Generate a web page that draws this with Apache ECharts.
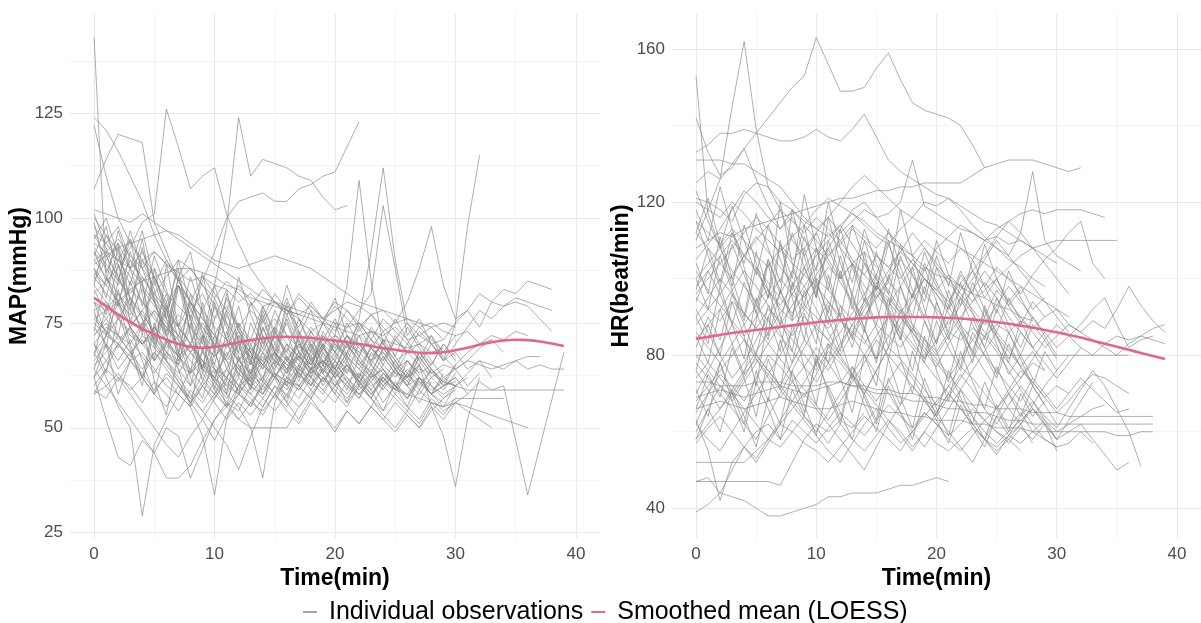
<!DOCTYPE html>
<html>
<head>
<meta charset="utf-8">
<script src="https://cdn.jsdelivr.net/npm/echarts@6/dist/echarts.min.js"></script>
<style>
  html, body { margin: 0; padding: 0; background: #ffffff; }
  #chart { width: 1201px; height: 623px; }
</style>
</head>
<body>
<div id="chart"></div>
<script>
// Axis breaks (major labels) and grid positions (major + minor)
const xTicks = [0, 10, 20, 30, 40];
const xGrid = [0, 5, 10, 15, 20, 25, 30, 35, 40];
const mapTicks = [25, 50, 75, 100, 125];
const mapGrid = [25, 37.5, 50, 62.5, 75, 87.5, 100, 112.5, 125, 137.5];
const hrTicks = [40, 80, 120, 160];
const hrGrid = [40, 60, 80, 100, 120, 140, 160];

// MAP (mmHg) per patient, one value per minute starting at 0 (null = no reading)
const mapSubjects = [
  [143, 86, 80, 74, 70, 72, 67, 65, 63, 66, 61, 64, 60, 62],
  [124, 121, 116, 110, 104, 96, 90, 86, 82, 78, 74, 71, 69, 67, 66, 68, 65, 67, 64, 66],
  [122, 110, 100, 94, 90, 86, 79, 74, 70, 66, 64, 60, 58, 62, 59, 63, 61, 60, 64, 62],
  [107, 114, 120, 119, 118, 99, 92, 85, 80, 74, 70, 66, 63, 60, 62, 58, 61, 59, 63],
  [82, 85, 88, 93, 99, 101, 126, 117, 107, 110, 112, 101, 94, 88, 84, 80, 78, 76, 73, 75, 72, 70, 68, 71, 69],
  [88, 84, 90, 86, 80, 77, 72, 75, 70, 78, 84, 98, 124, 110, 114, 113, 112, 110, 109, 105, 102, 103],
  [96, 94, 98, 90, 85, 88, 82, 79, 76, 85, 92, 100, 104, 105, 106, 104, 104, 107, 108, 110, 111, 117, 123],
  [68, 62, 55, 50, 29, 46, 52, 58, 55, 60, 64, 62, 66, 63, 68, 65, 70, 67, 64, 66, 62, 65, 60, 63, 61, 64, 60, 62, 58, 60, 61],
  [75, 72, 70, 66, 68, 64, 60, 58, 55, 48, 34, 52, 60, 58, 62, 66, 64, 68, 65, 70, 67, 72, 69, 66, 68, 64, 66, 63, 65],
  [78, 80, 76, 72, 70, 74, 68, 66, 70, 64, 62, 58, 55, 50, 38, 56, 62, 60, 64, 66, 63, 68, 65, 62, 64, 60, 58, 62, 60, 57, 59],
  [70, 74, 72, 68, 71, 66, 70, 67, 64, 68, 65, 62, 66, 63, 67, 64, 69, 66, 63, 65, 60, 62, 58, 61, 56, 60, 62, 65, 55, 48, 36, 52, 62],
  [92, 88, 84, 90, 86, 82, 78, 84, 80, 76, 72, 78, 74, 70, 73, 76, 72, 69, 74, 71, 68, 72, 70, 67, 70, 66, 68, 70, 72, 66, 75, 98, 115],
  [85, 90, 94, 88, 92, 86, 80, 84, 78, 82, 76, 79, 74, 78, 75, 80, 77, 82, 79, 76, 80, 78, 74, 77, 73, 75, 80, 88, 98, 84, 76, 78, 74, 80, 83, 82, 85, 84, 83],
  [66, 70, 64, 68, 62, 58, 63, 60, 56, 61, 58, 62, 59, 64, 61, 66, 63, 68, 65, 70, 72, 84, 109, 85, 70, 66, 62, 65, 60, 58, 60, 59, 59, 59, 59, 59, 59, 59, 59, 59],
  [72, 76, 80, 74, 78, 72, 68, 65, 70, 66, 62, 68, 64, 60, 65, 62, 67, 64, 70, 66, 63, 68, 76, 92, 112, 90, 75, 70, 66, 62, 64, 60, 63],
  [80, 78, 82, 76, 73, 78, 74, 70, 66, 62, 58, 64, 60, 66, 62, 68, 64, 70, 67, 72, 69, 74, 78, 82, 103, 88, 72, 76, 70, 66, 68, 64, 66, 62],
  [62, 52, 43, 41, 47, 44, 50, 48, 38, 45, 52, 56, 54, 60, 58, 62, 60, 64, 62, 59, 63, 60, 58, 62, 64, 60, 57, 62, 59, 61, 60],
  [64, 60, 56, 52, 48, 44, 38, 38, 41, 47, 52, 55, 58, 56, 60, 63, 61, 65, 62, 66, 64, 61, 63, 60, 62],
  [90, 86, 82, 78, 74, 70, 66, 62, 58, 54, 50, 46, 40, 48, 55, 60, 58, 63, 60, 65, 62, 67, 64, 61, 65, 62, 66, 63],
  [58, 60, 63, 59, 62, 58, 55, 60, 57, 54, 58, 55, 52, 56, 54, 58, 55, 60, 57, 62, 59, 56, 60, 57, 54, 58, 55, 52, 57, 54, 56, 58],
  [60, 64, 61, 66, 63, 59, 62, 58, 64, 60, 57, 62, 59, 55, 61, 58, 64, 60, 57, 62, 58, 55, 60, 57, 53, 50, 54, 51, 56, 53, 57],
  [98, 94, 90, 95, 88, 84, 90, 85, 80, 86, 82, 78, 84, 80, 76, 82, 78, 74, 80, 76, 73, 78, 75, 71, 76, 73, 70, 74, 71, 68, 72],
  [102, 101, 100, 99, 101, 99, 97, 95, 93, 91, 89, 87, 85, 83, 81, 80, 79, 78, 77, 76, 75, 74, 75, 73, 72, 74, 71, 72, 70, 71],
  [94, 92, 90, 88, 90, 92, 89, 87, 85, 86, 84, 83, 80, 82, 79, 80, 78, 77, 79, 76, 78, 80, 79, 77, 78, 75, 76, 74, 75, 73, 72, 73, 70, 71],
  [76, 78, 80, 83, 85, 86, 87, 88, 88, 87, 86, 84, 83, 81, 80, 79, 78, 77, 76, 75, 74, 73, 72, 73, 71, 70, 69, 70, 68, 69],
  [86, 82, 79, 83, 80, 76, 73, 77, 74, 70, 67, 71, 68, 65, 69, 66, 63, 67, 64, 61, 65, 62, 59, 63, 60, 64, 61, 58, 62, 59, 63],
  [74, 70, 66, 71, 67, 63, 68, 64, 60, 65, 61, 57, 62, 58, 55, 60, 56, 52, 57, 53, 50, 54, 51, 55, 52, 56, 53, 50, 54, 57, 60, 62],
  [90, 92, 95, 91, 88, 92, 89, 85, 88, 84, 81, 85, 82, 79, 83, 80, 77, 81, 78, 75, 79, 76, 73, 77, 74, 71, 75, 72, 74, 71, 75, 78, 82, 80, 79, 81, 80, 79, 78],
  [65, 68, 72, 70, 75, 78, 74, 71, 68, 72, 69, 66, 70, 67, 64, 68, 65, 62, 66, 63, 67, 64, 61, 65, 62, 59, 63, 60, 64, 61, 65, 68, 70, 72, 71, 73, 72],
  [100, 96, 92, 88, 84, 80, 76, 72, 68, 64, 60, 56, 52, 50, 50, 50, 50, 55, 58, 62, 60, 64, 62, 58, 61, 59],
  [62, 66, 70, 74, 78, 82, 86, 90, 88, 84, 79, 75, 71, 68, 72, 69, 66, 70, 67, 64, 68, 65, 62, 66, 63, 60, 64, 61, 58, 60, 62],
  [58, 64, 70, 66, 62, 68, 65, 61, 57, 63, 59, 55, 60, 57, 53, 58, 54, 51, 56, 53, 49, 54, 51, 55, 52, 49, 53, 50, 55, 52, 56, 54, 52, 50],
  [72, 75, 71, 74, 70, 73, 69, 72, 68, 71, 67, 70, 66, 69, 65, 68, 64, 67, 63, 66, 62, 65, 61, 64, 60, 63, 62, 64, 63, 65, 64, 66, 65, 64, 65, 66, 64, 65, 64, 64],
  [84, 80, 76, 81, 77, 73, 78, 74, 70, 75, 71, 67, 72, 68, 65, 70, 66, 63, 68, 65, 70, 67, 64, 69, 66, 71, 68, 73, 70, 66, 70, 74, 78, 76, 79, 80, 79, 76, 73],
  [68, 72, 76, 73, 70, 74, 71, 67, 70, 66, 63, 67, 64, 68, 65, 62, 66, 63, 60, 64, 61, 58, 62, 59, 63, 60, 57, 61, 58, 62, 60, 63, 66, 65, 64, 66, 67, 67],
  [80, 76, 72, 68, 64, 68, 64, 60, 56, 60, 56, 52, 56, 53, 57, 54, 58, 55, 59, 56, 60, 57, 61, 58, 62, 59, 58, 57, 56, 55, 56, 55, 54, 53, 52, 51, 50],
  [76, 73, 70, 67, 72, 69, 66, 63, 68, 65, 62, 59, 64, 61, 58, 63, 60, 57, 62, 59, 56, 61, 58, 55, 60, 57, 54, 59, 56, 55, 57, 57, 57, 57, 57],
  [87, 84, 80, 77, 83, 79, 75, 72, 78, 74, 70, 67, 73, 69, 66, 72, 68, 65, 71, 67, 64, 70, 66, 63, 69, 65, 62, 68, 64, 61, 60],
  [93, 89, 85, 82, 86, 81, 77, 74, 80, 76, 72, 69, 75, 71, 68, 74, 70, 67, 73, 69, 66, 72, 68, 65, 71],
  [59, 57, 62, 60, 56, 61, 58, 54, 59, 56, 61, 58, 63, 60, 57, 62, 59, 64, 61, 58, 63, 60, 57, 62, 59],
  [70, 66, 62, 58, 54, 50, 46, 43, 48, 52, 57, 61, 58, 63, 60, 65, 62, 67, 64, 69, 66, 63],
  [96, 91, 86, 81, 76, 71, 66, 61, 56, 52, 47, 53, 58, 55, 60, 57, 62, 59, 64, 61, 66],
  [77, 73, 69, 74, 70, 66, 71, 67, 63, 68, 64, 60, 65, 61, 66, 62, 67, 63, 59, 64, 60, 65, 61, 57, 62, 58, 63, 59, 64, 60, 62, 58, 61, 59, 60, null, 34, null, null, 68],
  [92, 85, 97, 88, 79, 91, 83, 74, 86, 77, 69, 81, 73, 66, 78, 70, 75, 68, 72, 65, 71, 67, 74, 69, 66, 72, 68],
  [84, 96, 89, 78, 93, 81, 70, 86, 76, 64, 80, 71, 62, 75, 69, 78, 72, 66, 73, 68, 64, 70, 66, 62, 67, 63, 60, 65],
  [99, 87, 94, 80, 73, 88, 76, 67, 82, 72, 59, 70, 79, 68, 61, 74, 66, 71, 63, 69, 75, 67, 62, 70, 65],
  [73, 86, 79, 92, 84, 71, 80, 68, 75, 63, 72, 66, 58, 70, 64, 73, 67, 61, 69, 63, 71, 66, 60, 68, 64, 59, 66, 62, 58, 63],
  [88, 81, 93, 75, 85, 69, 78, 88, 72, 64, 76, 83, 70, 62, 74, 67, 79, 71, 65, 72, 68, 63, 70, 66, 71, 64, 60, 67, 63, 61],
  [67, 79, 72, 85, 76, 66, 89, 74, 63, 80, 69, 58, 72, 65, 77, 68, 60, 73, 66, 70, 63, 68, 72, 65, 61, 66, 62, 68, 64, 60, 65],
  [95, 100, 91, 84, 95, 80, 73, 86, 92, 78, 68, 82, 74, 65, 79, 72, 84, 76, 69, 75, 81, 72, 67, 74, 70, 76, 71, 66, 72, 68],
  [62, 70, 58, 66, 75, 61, 53, 68, 60, 72, 64, 55, 67, 59, 71, 63, 57, 65, 60, 68, 62, 56, 63, 59, 54, 61, 57, 62, 58, 55, 60],
  [80, 72, 85, 95, 82, 70, 79, 66, 74, 87, 73, 64, 70, 61, 76, 68, 63, 72, 78, 69, 64, 71, 67, 73, 68, 64, 70, 66, 62, 64],
  [91, 98, 86, 79, 90, 83, 72, 65, 77, 70, 81, 74, 66, 71, 79, 73, 68, 76, 70, 65, 72, 69, 75, 71, 67, 63, 68, 65, 70, 67, 64, 66, 69, 71, 68],
  [70, 63, 77, 69, 60, 74, 82, 71, 62, 57, 68, 61, 75, 66, 58, 64, 70, 62, 67, 60, 66, 61, 57, 63, 59, 64, 60, 56, 61],
  [86, 92, 80, 88, 97, 85, 76, 90, 79, 71, 84, 75, 68, 80, 72, 66, 77, 70, 64, 73, 68, 75, 70, 66, 71, 67, 74, 69, 65, 70, 67],
  [78, 69, 83, 74, 66, 58, 71, 64, 55, 69, 61, 73, 65, 59, 68, 62, 56, 64, 70, 63, 58, 66, 61, 57, 63, 60, 55, 62, 58, 56],
  [101, 93, 85, 97, 88, 80, 72, 84, 76, 68, 79, 71, 86, 77, 70, 74, 81, 73, 68, 75, 70, 66, 72, 69, 65, 71, 68],
  [64, 72, 80, 70, 62, 75, 66, 84, 73, 61, 69, 78, 67, 60, 72, 65, 76, 68, 62, 70, 64, 59, 67, 63, 69, 65, 61, 67, 63],
  [83, 77, 89, 81, 72, 86, 78, 68, 80, 73, 65, 77, 71, 63, 74, 68, 80, 72, 66, 71, 76, 70, 65, 69, 73, 67, 63, 68, 65, 70, 66],
  [89, 91, 93, 94, 95, 96, 97, 96, 94, 92, 90, 89, 88, 89, 90, 91, 90, 89, 88, 86, 84, 82, 80, 79, 78, 77, 76, 75, 74, 75, 74]
];

// HR (beat/min) per patient, one value per minute starting at 0
const hrSubjects = [
  [153, 117, 108, 102, 98, 94, 97, 92, 89, 93, 90, 87, 91, 88],
  [142, 133, 127, 129, 134, 126, 119, 113, 116, 110, 107, 112, 108, 104, 107, 103],
  [125, 128, 126, 145, 162, 139, 124, 118, 110, 106, 112, 105, 100, 104, 98, 95, 99, 96],
  [110, 118, 126, 130, 134, 138, 142, 146, 150, 153, 163, 156, 149, 149, 150, 155, 159, 152, 146, 144, 143, 142, 140, 135, 129],
  [133, 135, 138, 138, 139, 138, 137, 136, 136, 137, 139, 137, 136, 139, 143, 137, 131, 128, 126, 124, 122, 121, 119, 117, 115, 114, 112, 110, 108, 106, 104],
  [131, 131, 131, 130, 130, 128, 126, 124, 120, 116, 113, 111, 114, 117, 115, 112, 110, 108, 106, 103, 101, 100, 98, 96, 95, 93, 92, 90, 89],
  [108, 110, 112, 111, 113, 114, 115, 116, 117, 118, 119, 120, 121, 121, 122, 123, 123, 124, 124, 125, 125, 125, 125, 127, 129, 130, 131, 131, 131, 130, 129, 128, 129],
  [121, 120, 118, 115, 122, 125, 124, 120, 118, 115, 113, 116, 112, 115, 118, 116, 117, 120, 131, 119, 117, 115, 113, 112, 110, 111, 109, 110, 108],
  [100, 104, 108, 112, 106, 110, 114, 118, 115, 112, 116, 113, 110, 114, 111, 108, 112, 109, 106, 110, 107, 104, 108, 105, 110, 108, 106, 112, 128, 110, 106, 104, 102],
  [115, 112, 109, 113, 110, 106, 103, 108, 104, 101, 98, 103, 100, 104, 101, 106, 103, 100, 105, 102, 108, 111, 114, 112, 110, 113, 115, 117, 118, 117, 118, 118, 118, 117, 116],
  [105, 109, 113, 118, 123, 120, 116, 113, 118, 114, 110, 106, 109, 113, 110, 106, 103, 107, 104, 100, 97, 101, 98, 94, 97, 100, 103, 106, 108, 109, 110, 110, 110, 110, 110, 110],
  [88, 92, 96, 101, 106, 103, 99, 95, 91, 96, 100, 97, 93, 89, 94, 98, 95, 91, 96, 100, 97, 94, 99, 102, 98, 103, 100, 96, 101, 105, 108, 112, 115, 104, 100],
  [95, 92, 89, 94, 91, 87, 92, 89, 85, 90, 87, 84, 89, 86, 83, 88, 85, 82, 87, 84, 81, 86, 84, 87, 85, 88, 86, 89, 87, 90, 92, 88, 86, 89, 87, 92, 98, 93, 89, 86],
  [80, 80, 80, 80, 80, 80, 80, 80, 80, 80, 80, 80, 80, 80, 80, 80, 80, 80, 80, 80, 80, 80, 80, 80, 80, 80, 80, 80, 80, 80, 80, 80, 80, 80, 80, 80, 80],
  [73, 73, 72, 72, 72, 73, 73, 73, 72, 72, 72, 73, 73, 72, 72, 71, 71, 70, 70, 69, 69, 68, 68, 67, 67, 66, 66, 66, 65, 65, 65, 64, 64, 64, 64, 64, 64, 64, 64],
  [69, 70, 71, 70, 69, 70, 71, 72, 71, 70, 71, 72, 73, 72, 71, 70, 70, 69, 68, 68, 67, 66, 66, 65, 65, 64, 63, 63, 62, 62, 62, 62, 62, 62, 62, 62, 62, 62, 62],
  [66, 67, 68, 67, 66, 67, 68, 69, 68, 67, 66, 66, 67, 68, 67, 66, 65, 65, 64, 64, 63, 63, 63, 62, 62, 61, 61, 61, 60, 60, 60, 60, 60, 60, 60, 59, 59, 60, 60],
  [39, 41, 44, 43, 42, 40, 38, 38, 39, 40, 41, 43, 43, 44, 44, 44, 45, 46, 46, 47, 48, 47],
  [47, 47, 47, 47, 47, 47, 47, 46, 52, 58, 62, 60, 63, 61, 65],
  [63, 55, 42, 52, 56, 60, 62, 58, 63, 60, 57, 61, 65, 62, 59, 63, 67, 64, 61, 65, 62, 58, 55, 59, 63, 60, 57, 61, 58, 62, 55],
  [52, 52, 52, 52, 52, 55, 58, 56, 60, 64, 61, 57, 62, 58, 55, 59, 63, 60, 56, 60, 57, 55, 58, 61, 58, 56, 59, 57, 60, 58, 56, 57, 60, 57],
  [57, 61, 64, 60, 56, 52, 57, 62, 66, 70, 66, 62, 58, 54, 50, 56, 62, 67, 72, 68, 64, 60, 56, 52, 58, 64, 70, 66, 62, 58, 56],
  [76, 71, 66, 70, 75, 79, 74, 69, 73, 77, 82, 78, 73, 77, 72, 68, 73, 78, 74, 69, 65, 70, 75, 71, 66, 62, 67, 72, 68, 64, 61, 66, 71, 76, 72, 66, 60, 51],
  [60, 66, 72, 69, 74, 80, 76, 72, 78, 84, 80, 76, 82, 88, 84, 79, 85, 90, 86, 81, 77, 83, 88, 84, 80, 76, 72, 68, 74, 70, 66, 70, 74, 71, 68, 65, 66],
  [84, 88, 92, 97, 102, 98, 93, 88, 84, 80, 76, 82, 86, 91, 96, 101, 97, 92, 88, 84, 80, 85, 90, 94, 99, 95, 90, 86, 82, 78, 74, 78, 82],
  [92, 86, 80, 74, 78, 84, 90, 96, 102, 98, 92, 86, 80, 75, 70, 76, 82, 88, 94, 100, 96, 91, 86, 81, 76, 71, 66, 62, 67, 72, 76, 80],
  [78, 74, 70, 66, 62, 58, 64, 70, 76, 82, 88, 94, 90, 85, 80, 75, 70, 65, 60, 56, 61, 66, 71, 76, 81, 86, 82, 77, 72, 67, 62],
  [98, 102, 106, 110, 106, 102, 97, 93, 98, 103, 108, 104, 99, 94, 90, 95, 100, 105, 101, 96, 92, 88, 93, 97, 102, 98, 94, 90, 86, 82, 85, 88, 86, 84, 82, 80, 83, 85, 87, 88],
  [70, 76, 82, 88, 84, 79, 75, 80, 86, 92, 98, 94, 89, 85, 90, 96, 92, 87, 83, 79, 84, 89, 95, 91, 86, 82, 78, 74, 79, 84, 88, 85, 82, 80, 83, 85, 84, 85, 84, 83],
  [65, 70, 75, 72, 68, 74, 80, 77, 73, 69, 75, 81, 78, 74, 70, 76, 82, 79, 75, 71, 67, 72, 77, 74, 70, 66, 71, 76, 73, 69, 65, 68, 72, 75, 74, 72, 70],
  [112, 108, 104, 100, 106, 111, 107, 103, 99, 95, 101, 106, 110, 105, 101, 97, 93, 98, 103, 108, 104, 100, 96, 92, 88, 93, 98, 94, 90, 86, 82, 85, 88, 92, 95, 88, 82, 84, 85],
  [86, 82, 78, 83, 88, 93, 89, 85, 81, 77, 73, 78, 83, 88, 93, 98, 94, 90, 86, 82, 78, 74, 79, 84, 89, 85, 81, 77, 73, 69, 72, 70],
  [74, 78, 74, 70, 66, 62, 58, 63, 68, 73, 78, 83, 79, 75, 71, 67, 63, 59, 55, 60, 65, 70, 66, 62, 58, 54, 59, 64, 68, 63, 58],
  [62, 58, 55, 60, 65, 70, 75, 71, 67, 63, 59, 55, 52, 57, 62, 66, 61, 57, 60, 64, 68, 72, 68, 64, 60, 57, 60, 63, 66, 62, 58, 60, 62, 58, 54, 50, 52],
  [102, 97, 93, 89, 85, 90, 95, 100, 96, 92, 88, 84, 80, 86, 92, 97, 102, 107, 112, 108, 103, 99, 95, 100, 105, 110, 106, 102, 98, 94, 90, 86],
  [58, 62, 66, 71, 76, 81, 86, 91, 96, 101, 106, 110, 114, 109, 104, 100, 96, 91, 87, 83, 79, 75, 71, 67, 63, 66, 70, 74, 78, 76],
  [90, 95, 100, 96, 91, 87, 83, 88, 93, 98, 103, 108, 113, 118, 120, 116, 112, 108, 104, 100, 96, 92, 97, 102, 106, 111, 115, 112, 108, 104, 100, 96],
  [120, 118, 116, 120, 117, 113, 110, 107, 111, 114, 118, 121, 119, 117, 114, 111, 109, 113, 116, 120, 119, 121, 118, 114, 111, 108, 105, 103, 100, 98],
  [96, 100, 104, 108, 112, 116, 113, 109, 105, 108, 112, 116, 120, 124, 127, 124, 121, 118, 116, 114, 112, 110, 108, 106, 104, 102, 100, 98, 96, 94, 92, 90],
  [47, 48, 44, 50, 56, 53, 58, 62, 60, 57, 55, 52, 56, 60, 64, 61, 58, 55, 60, 65, 62, 59, 62, 66, 63, 60, 58, 55],
  [80, 76, 72, 68, 73, 78, 83, 79, 75, 71, 67, 63, 68, 73, 78, 84, 80, 76, 72, 68, 64, 69, 74, 79, 85, 81, 76, 71, 66, 62, 58, 63, 68, 73],
  [68, 72, 76, 80, 84, 80, 76, 72, 68, 64, 60, 65, 70, 75, 80, 85, 90, 86, 82, 78, 74, 70, 66, 62, 58, 55, 58, 62, 66, 63, 60, 62, 64, 66, 67],
  [118, 110, 124, 113, 104, 117, 108, 99, 112, 103, 96, 108, 100, 114, 105, 97, 109, 101, 95, 104, 98, 92, 101, 96, 90, 97, 93, 88, 94, 90],
  [97, 108, 99, 112, 103, 91, 105, 96, 118, 106, 95, 110, 101, 92, 104, 97, 113, 103, 95, 107, 99, 93, 102, 96, 109, 100, 94, 98, 92, 95],
  [76, 88, 80, 94, 85, 72, 90, 81, 99, 88, 77, 93, 84, 74, 87, 79, 95, 85, 76, 89, 81, 73, 86, 78, 92, 83, 75, 80, 74],
  [104, 96, 111, 100, 90, 107, 97, 88, 102, 114, 99, 91, 106, 95, 87, 101, 110, 98, 90, 103, 94, 86, 99, 91, 84, 95, 88, 82, 90, 85, 80],
  [85, 78, 92, 83, 75, 89, 104, 90, 81, 97, 86, 78, 93, 84, 107, 93, 82, 98, 88, 79, 94, 85, 77, 90, 82, 75, 86, 79, 72, 81, 76],
  [66, 75, 69, 82, 74, 64, 79, 71, 88, 77, 67, 83, 74, 65, 80, 72, 91, 79, 70, 85, 76, 68, 81, 73, 66, 77, 70, 64, 72, 67],
  [112, 121, 109, 98, 114, 104, 95, 109, 100, 122, 108, 97, 113, 103, 94, 107, 99, 118, 106, 96, 110, 101, 93, 105, 98, 91, 102, 95, 89],
  [90, 83, 98, 88, 79, 95, 85, 110, 95, 84, 100, 90, 81, 96, 87, 78, 92, 84, 103, 92, 83, 97, 88, 80, 93, 85, 78, 89, 82, 86],
  [58, 66, 60, 71, 64, 56, 69, 62, 76, 67, 59, 72, 65, 58, 70, 63, 79, 69, 61, 74, 66, 59, 71, 64, 58, 67, 61, 65, 60, 63],
  [123, 115, 108, 119, 110, 101, 114, 105, 97, 111, 102, 120, 108, 99, 113, 104, 96, 109, 101, 94, 106, 98, 112, 102, 95, 100, 93, 97],
  [82, 90, 84, 96, 88, 80, 93, 86, 78, 91, 83, 101, 90, 82, 95, 87, 79, 92, 85, 78, 89, 82, 76, 86, 80, 74, 83, 77, 81, 76],
  [71, 64, 78, 70, 62, 76, 68, 84, 74, 65, 79, 71, 63, 77, 69, 62, 74, 67, 81, 72, 64, 76, 69, 62, 73, 66, 60, 70, 64, 68],
  [100, 92, 106, 97, 89, 103, 95, 120, 104, 93, 108, 99, 90, 104, 96, 88, 101, 93, 86, 98, 91, 84, 95, 88, 82, 92, 86, 80, 88, 84, 79],
  [62, 70, 78, 68, 60, 73, 66, 58, 71, 64, 80, 70, 62, 75, 67, 60, 72, 65, 58, 69, 63, 57, 67, 61, 56, 64, 59, 62, 57],
  [94, 102, 96, 88, 99, 91, 84, 97, 89, 108, 97, 88, 102, 93, 86, 99, 91, 84, 96, 89, 83, 93, 87, 81, 90, 85, 79, 86, 82],
  [115, 106, 98, 109, 101, 93, 105, 97, 90, 103, 95, 116, 104, 96, 110, 100, 92, 106, 97, 90, 103, 95, 88, 99, 92, 86, 95, 89]
];

// LOESS smoothed means, minutes 0..39
const mapSmooth = [81.0, 79.0, 77.0, 75.2, 73.6, 72.3, 71.0, 70.0, 69.3, 69.1, 69.3, 69.8, 70.4, 70.9, 71.3, 71.6, 71.7, 71.6, 71.4, 71.1,
                   70.8, 70.4, 70.0, 69.5, 69.0, 68.6, 68.2, 67.9, 67.8, 68.0, 68.5, 69.1, 69.8, 70.4, 70.8, 71.0, 70.9, 70.6, 70.1, 69.5];
const hrSmooth = [84.3, 84.8, 85.3, 85.8, 86.2, 86.6, 87.0, 87.4, 87.8, 88.2, 88.6, 88.9, 89.2, 89.5, 89.7, 89.9, 90.0, 90.0, 90.0, 90.0,
                  89.9, 89.8, 89.6, 89.3, 89.0, 88.6, 88.2, 87.7, 87.2, 86.6, 86.0, 85.3, 84.6, 83.8, 83.0, 82.2, 81.4, 80.6, 79.8, 79.0];

const OBS = 'Individual observations';
const MEAN = 'Smoothed mean (LOESS)';
const FONT = '"Liberation Sans", Arial, sans-serif';
const GREY = 'rgba(135,135,135,0.75)';
const PINK = '#e0678f';

function toPoints(values) {
  const pts = [];
  values.forEach((v, i) => { if (v !== null && v !== undefined) pts.push([i, v]); });
  return pts;
}

function obsSeries(list, idx) {
  return list.map(vals => ({
    type: 'line', name: OBS, xAxisIndex: idx, yAxisIndex: idx,
    data: toPoints(vals), symbol: 'none', showSymbol: false, silent: true,
    lineStyle: { color: GREY, width: 0.9 }, itemStyle: { color: GREY }, z: 2
  }));
}

function meanSeries(vals, idx) {
  return {
    type: 'line', name: MEAN, xAxisIndex: idx, yAxisIndex: idx,
    data: toPoints(vals), symbol: 'none', showSymbol: false, silent: true, smooth: 0.3,
    lineStyle: { color: PINK, width: 2.6 }, itemStyle: { color: PINK }, z: 5
  };
}

function xAxisFor(idx) {
  return {
    gridIndex: idx, type: 'value', min: -2, max: 42,
    axisLine: { show: false },
    axisTick: { show: false, customValues: xGrid },
    axisLabel: { customValues: xTicks, fontSize: 17, color: '#4d4d4d', fontFamily: FONT, margin: 7 },
    splitLine: { show: true, lineStyle: { color: ['#e9e9e9', '#f3f3f3'], width: 1 } },
    name: 'Time(min)', nameLocation: 'middle', nameGap: 24,
    nameTextStyle: { fontSize: 23, fontWeight: 'bold', color: '#000', fontFamily: FONT }
  };
}

function yAxisFor(idx, min, max, ticks, grid, title, gap) {
  return {
    gridIndex: idx, type: 'value', min: min, max: max,
    axisLine: { show: false },
    axisTick: { show: false, customValues: grid },
    axisLabel: { customValues: ticks, fontSize: 17, color: '#4d4d4d', fontFamily: FONT, margin: 7 },
    splitLine: { show: true, lineStyle: { color: ['#e9e9e9', '#f3f3f3'], width: 1 } },
    name: title, nameLocation: 'middle', nameGap: gap,
    nameTextStyle: { fontSize: 23, fontWeight: 'bold', color: '#000', fontFamily: FONT }
  };
}

const chart = echarts.init(document.getElementById('chart'), null, { renderer: 'canvas' });
chart.setOption({
  animation: false,
  backgroundColor: '#ffffff',
  grid: [
    { left: 70, top: 13.5, width: 530, height: 525 },
    { left: 672, top: 13.5, width: 530, height: 525 }
  ],
  xAxis: [xAxisFor(0), xAxisFor(1)],
  yAxis: [
    yAxisFor(0, 23.6, 148.8, mapTicks, mapGrid, 'MAP(mmHg)', 37),
    yAxisFor(1, 32.1, 169.3, hrTicks, hrGrid, 'HR(beat/min)', 39)
  ],
  legend: {
    data: [{ name: OBS }, { name: MEAN }],
    left: 298, top: 594,
    icon: 'rect', itemWidth: 14, itemHeight: 2, itemGap: 8,
    formatter: ' {name}',
    selectedMode: false,
    textStyle: { fontSize: 25, color: '#000', fontFamily: FONT, lineHeight: 26 }
  },
  series: [
    ...obsSeries(mapSubjects, 0),
    meanSeries(mapSmooth, 0),
    ...obsSeries(hrSubjects, 1),
    meanSeries(hrSmooth, 1)
  ]
});
</script>
</body>
</html>
